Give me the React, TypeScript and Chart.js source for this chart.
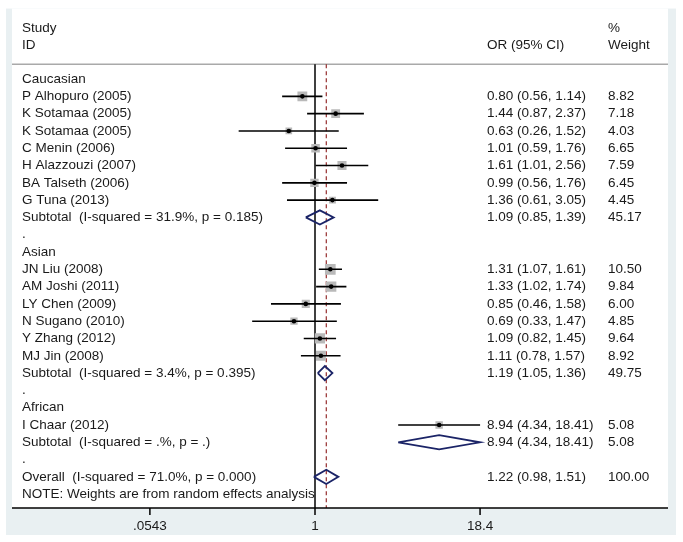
import React, { useEffect, useRef } from 'react';
import { Chart, registerables } from 'chart.js';
Chart.register(...registerables);

// ---- data ----
const rowLabels: string[] = [
  'Caucasian',
  'P Alhopuro (2005)',
  'K Sotamaa (2005)',
  'K Sotamaa (2005)',
  'C Menin (2006)',
  'H Alazzouzi (2007)',
  'BA Talseth (2006)',
  'G Tuna (2013)',
  'Subtotal  (I-squared = 31.9%, p = 0.185)',
  '.',
  'Asian',
  'JN Liu (2008)',
  'AM Joshi (2011)',
  'LY Chen (2009)',
  'N Sugano (2010)',
  'Y Zhang (2012)',
  'MJ Jin (2008)',
  'Subtotal  (I-squared = 3.4%, p = 0.395)',
  '.',
  'African',
  'I Chaar (2012)',
  'Subtotal  (I-squared = .%, p = .)',
  '.',
  'Overall  (I-squared = 71.0%, p = 0.000)',
  'NOTE: Weights are from random effects analysis',
];

const studyRows = [1, 2, 3, 4, 5, 6, 7, 11, 12, 13, 14, 15, 16, 20];
const studyOR = [0.8, 1.44, 0.63, 1.01, 1.61, 0.99, 1.36, 1.31, 1.33, 0.85, 0.69, 1.09, 1.11, 8.94];
const studyLow = [0.56, 0.87, 0.26, 0.59, 1.01, 0.56, 0.61, 1.07, 1.02, 0.46, 0.33, 0.82, 0.78, 4.34];
const studyHigh = [1.14, 2.37, 1.52, 1.76, 2.56, 1.76, 3.05, 1.61, 1.74, 1.58, 1.47, 1.45, 1.57, 18.41];
const studyWeight = [8.82, 7.18, 4.03, 6.65, 7.59, 6.45, 4.45, 10.5, 9.84, 6.0, 4.85, 9.64, 8.92, 5.08];

const pooledRows = [8, 17, 21, 23];
const pooledOR = [1.09, 1.19, 8.94, 1.22];
const pooledLow = [0.85, 1.05, 4.34, 0.98];
const pooledHigh = [1.39, 1.36, 18.41, 1.51];
const pooledWeight = [45.17, 49.75, 5.08, 100.0];

const overallOR = 1.22;

const xTickValues = [0.0543, 1, 18.4];
const xTickLabels = ['.0543', '1', '18.4'];

const headerLeft = ['Study', 'ID'];
const headerOR = 'OR (95% CI)';
const headerWeight = ['%', 'Weight'];

// ---- layout / style ----
const FONT = '13.5px "Liberation Sans", Arial, sans-serif';
const TEXT = '#1a1a1a';
const PX_PER_DECADE = 130.5;
const X_NULL_PX = 303; // offset of OR=1 from chart left
const X_MIN = Math.pow(10, -X_NULL_PX / PX_PER_DECADE);
const X_MAX = Math.pow(10, 353 / PX_PER_DECADE);
const Y_MIN = -4.133;
const Y_MAX = 24.8;
const HEADER_Y1 = -2.95;
const HEADER_Y2 = -1.95;
const SEP_Y = -0.85;
const DIAMOND_H = 0.41;

const fmt = (v: number) => v.toFixed(2);

export default function App() {
  const ref = useRef<HTMLCanvasElement>(null);

  useEffect(() => {
    document.body.style.margin = '0';
    const canvas = ref.current!;

    const datasets: any[] = [];
    // squares
    datasets.push({
      data: studyRows.map((r, i) => ({ x: studyOR[i], y: r })),
      pointStyle: 'rect',
      pointRadius: studyWeight.map((w) => (3.3 * Math.sqrt(w)) / Math.SQRT2),
      pointBackgroundColor: '#b9b9b9',
      pointBorderWidth: 0,
      showLine: false,
      order: 3,
    });
    // CI lines
    studyRows.forEach((r, i) => {
      datasets.push({
        data: [
          { x: studyLow[i], y: r },
          { x: studyHigh[i], y: r },
        ],
        showLine: true,
        borderColor: '#000',
        borderWidth: 1.6,
        pointRadius: 0,
        order: 2,
      });
    });
    // center dots
    datasets.push({
      data: studyRows.map((r, i) => ({ x: studyOR[i], y: r })),
      pointStyle: 'circle',
      pointRadius: 2.3,
      pointBackgroundColor: '#000',
      pointBorderWidth: 0,
      showLine: false,
      order: 1,
    });
    // diamonds
    pooledRows.forEach((r, i) => {
      datasets.push({
        data: [
          { x: pooledLow[i], y: r },
          { x: pooledOR[i], y: r - DIAMOND_H },
          { x: pooledHigh[i], y: r },
          { x: pooledOR[i], y: r + DIAMOND_H },
          { x: pooledLow[i], y: r },
        ],
        showLine: true,
        borderColor: '#1b2467',
        borderWidth: 1.8,
        pointRadius: 0,
        tension: 0,
        order: 1,
      });
    });

    const forestPlugin = {
      id: 'forest',
      beforeDraw(chart: any) {
        const { ctx, chartArea: a } = chart;
        ctx.save();
        ctx.fillStyle = '#ffffff';
        ctx.fillRect(0, 0, chart.width, chart.height);
        ctx.fillStyle = '#e9f0f2';
        ctx.fillRect(a.left - 6, a.top + 1, a.right - a.left + 14, a.bottom - a.top + 26);
        ctx.fillStyle = '#ffffff';
        ctx.fillRect(a.left, a.top + 1, a.right - a.left, a.bottom - a.top - 1);
        ctx.restore();
      },
      beforeDatasetsDraw(chart: any) {
        const { ctx, chartArea: a, scales } = chart;
        const x = scales.x;
        const y = scales.y;
        const sepY = y.getPixelForValue(SEP_Y);
        ctx.save();
        // separator
        ctx.strokeStyle = '#a9a9a9';
        ctx.lineWidth = 1.5;
        ctx.beginPath();
        ctx.moveTo(a.left, sepY);
        ctx.lineTo(a.right, sepY);
        ctx.stroke();
        // null line
        const x1 = x.getPixelForValue(1);
        ctx.strokeStyle = '#000';
        ctx.lineWidth = 1.5;
        ctx.beginPath();
        ctx.moveTo(x1, sepY);
        ctx.lineTo(x1, a.bottom);
        ctx.stroke();
        // overall dashed line
        const xo = x.getPixelForValue(overallOR);
        ctx.strokeStyle = '#8b1a1a';
        ctx.lineWidth = 1.1;
        ctx.setLineDash([4, 3]);
        ctx.beginPath();
        ctx.moveTo(xo, sepY);
        ctx.lineTo(xo, a.bottom);
        ctx.stroke();
        ctx.restore();
      },
      afterDraw(chart: any) {
        const { ctx, chartArea: a, scales } = chart;
        const x = scales.x;
        const y = scales.y;
        const labelX = a.left + 10;
        const orX = a.right - 181;
        const wX = a.right - 60;
        ctx.save();
        ctx.font = FONT;
        ctx.fillStyle = TEXT;
        ctx.textBaseline = 'middle';
        ctx.textAlign = 'left';
        // header
        ctx.fillText(headerLeft[0], labelX, y.getPixelForValue(HEADER_Y1));
        ctx.fillText(headerLeft[1], labelX, y.getPixelForValue(HEADER_Y2));
        ctx.fillText(headerOR, orX, y.getPixelForValue(HEADER_Y2));
        ctx.fillText(headerWeight[0], wX, y.getPixelForValue(HEADER_Y1));
        ctx.fillText(headerWeight[1], wX, y.getPixelForValue(HEADER_Y2));
        // row labels
        rowLabels.forEach((t, r) => {
          ctx.fillText(t, labelX, y.getPixelForValue(r));
        });
        // numeric columns
        const cols = (rows: number[], or: number[], lo: number[], hi: number[], w: number[]) => {
          rows.forEach((r, i) => {
            const py = y.getPixelForValue(r);
            ctx.fillText(`${fmt(or[i])} (${fmt(lo[i])}, ${fmt(hi[i])})`, orX, py);
            ctx.fillText(fmt(w[i]), wX, py);
          });
        };
        cols(studyRows, studyOR, studyLow, studyHigh, studyWeight);
        cols(pooledRows, pooledOR, pooledLow, pooledHigh, pooledWeight);
        // x axis
        ctx.strokeStyle = '#000';
        ctx.lineWidth = 1.5;
        ctx.beginPath();
        ctx.moveTo(a.left, a.bottom);
        ctx.lineTo(a.right, a.bottom);
        ctx.stroke();
        ctx.textAlign = 'center';
        xTickValues.forEach((v, i) => {
          const px = x.getPixelForValue(v);
          ctx.beginPath();
          ctx.moveTo(px, a.bottom);
          ctx.lineTo(px, a.bottom + 7);
          ctx.stroke();
          ctx.fillText(xTickLabels[i], px, a.bottom + 18);
        });
        ctx.restore();
      },
    };

    const chart = new Chart(canvas, {
      type: 'scatter',
      data: { datasets },
      options: {
        responsive: false,
        animation: false,
        events: [],
        layout: { padding: { left: 12, right: 15, top: 4, bottom: 34 } },
        plugins: { legend: { display: false }, tooltip: { enabled: false } },
        scales: {
          x: { type: 'logarithmic', display: false, min: X_MIN, max: X_MAX, bounds: 'data' },
          y: { type: 'linear', display: false, reverse: true, min: Y_MIN, max: Y_MAX },
        },
      },
      plugins: [forestPlugin],
    } as any);

    return () => chart.destroy();
  }, []);

  return (
    <div style={{ width: 683, height: 542 }}>
      <canvas ref={ref} width={683} height={542} style={{ display: 'block' }} />
    </div>
  );
}
